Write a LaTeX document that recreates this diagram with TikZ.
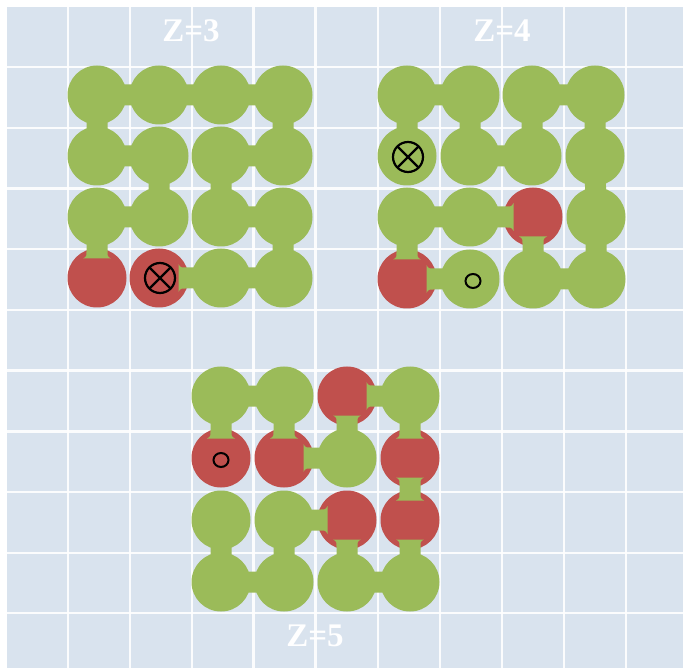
\documentclass[tikz,border=0pt]{standalone}
\usepackage{fontspec}
\setmainfont{Liberation Serif}
\usetikzlibrary{calc,shapes.geometric}
\definecolor{bgblue}{HTML}{D9E3EE}
\definecolor{pg}{HTML}{9BBB59}
\definecolor{pr}{HTML}{C0504D}
\newcommand\mybond[2]{%
 \path ($(#1.center)!19.5pt!(#2.center)$) coordinate (bA)
       ($(#2.center)!19.5pt!(#1.center)$) coordinate (bB);
 \fill[pg] ($(bA)!14pt!90:(bB)$) .. controls ($(bA)!2pt!(bB)!10.5pt!90:(bB)$) .. ($(bA)!7pt!(bB)!10.5pt!90:(bB)$)
   -- ($(bB)!7pt!(bA)!10.5pt!-90:(bA)$) .. controls ($(bB)!2pt!(bA)!10.5pt!-90:(bA)$) .. ($(bB)!14pt!-90:(bA)$)
   -- ($(bB)!14pt!90:(bA)$) .. controls ($(bB)!2pt!(bA)!10.5pt!90:(bA)$) .. ($(bB)!7pt!(bA)!10.5pt!90:(bA)$)
   -- ($(bA)!7pt!(bB)!10.5pt!-90:(bB)$) .. controls ($(bA)!2pt!(bB)!10.5pt!-90:(bB)$) .. ($(bA)!14pt!-90:(bB)$) -- cycle;}
\tikzset{
  bead/.style={circle, fill=#1, minimum size=59pt, inner sep=0pt, outer sep=0pt},
  gridline/.style={white, line width=2.5pt, opacity=0.9},
  otimes/.style={circle, draw=black, line width=2.2pt, minimum size=30pt, inner sep=0pt,
    path picture={\draw[line width=2.2pt] (path picture bounding box.north west) -- (path picture bounding box.south east)
      (path picture bounding box.north east) -- (path picture bounding box.south west);}},
  odot/.style={ellipse, draw=black, line width=2pt, minimum width=15pt, minimum height=14pt, inner sep=0pt},
  lbl/.style={text=white, font=\bfseries\fontsize{33}{33}\selectfont, inner sep=0pt}
}
\begin{document}
\begin{tikzpicture}[x=1pt, y=-1pt]
\useasboundingbox (0,0) rectangle (683,668);
\fill[white] (0,0) rectangle (683,668);
\fill[bgblue] (7,7) rectangle (683,668);
\foreach \gx in {68,130,192,253.5,315.5,378,440,502,564,626}
  \draw[gridline] (\gx,7) -- (\gx,668);
\foreach \gy in {67,128,188.5,249,310,370.5,431.5,492,553,613}
  \draw[gridline] (7,\gy) -- (683,\gy);

% Z=3
\foreach \n/\px/\py/\cl in {11/97/95/pg,12/159/95/pg,13/221/95/pg,14/283/95/pg,
  21/97/156/pg,22/159/156/pg,23/221/156/pg,24/283/156/pg,
  31/97/217/pg,32/159/217/pg,33/221/217/pg,34/283/217/pg,
  41/97/278/pr,42/159/278/pr,43/221/278/pg,44/283/278/pg}
  \node[bead=\cl] (a\n) at (\px,\py) {};
\mybond{a41}{a31}\mybond{a31}{a32}\mybond{a32}{a22}\mybond{a22}{a21}
\mybond{a21}{a11}\mybond{a11}{a12}\mybond{a12}{a13}\mybond{a13}{a14}
\mybond{a14}{a24}\mybond{a24}{a23}\mybond{a23}{a33}\mybond{a33}{a34}
\mybond{a34}{a44}\mybond{a44}{a43}\mybond{a43}{a42}
\node[otimes] (x3) at (160,278) {};

% Z=4
\foreach \n/\px/\py/\cl in {11/407/95/pg,12/470/95/pg,13/532/95/pg,14/595/95/pg,
  21/407/156/pg,22/470/156/pg,23/532/156/pg,24/595/156/pg,
  31/407/217/pg,32/470/217/pg,33/533/217/pr,34/596/217/pg,
  41/407/279/pr,42/470/279/pg,43/533/279/pg,44/596/279/pg}
  \node[bead=\cl] (b\n) at (\px,\py) {};
\mybond{b42}{b41}\mybond{b41}{b31}\mybond{b31}{b32}\mybond{b32}{b33}
\mybond{b33}{b43}\mybond{b43}{b44}\mybond{b44}{b34}\mybond{b34}{b24}
\mybond{b24}{b14}\mybond{b14}{b13}\mybond{b13}{b23}\mybond{b23}{b22}
\mybond{b22}{b12}\mybond{b12}{b11}\mybond{b11}{b21}
\node[otimes] (x4) at (408,157) {};
\node[odot] (o4) at (473,281) {};

% Z=5
\foreach \n/\px/\py/\cl in {11/221/396/pg,12/284/396/pg,13/347/396/pr,14/410/396/pg,
  21/221/458/pr,22/284/458/pr,23/347/458/pg,24/410/458/pr,
  31/221/520/pg,32/284/520/pg,33/347/520/pr,34/410/520/pr,
  41/221/582/pg,42/284/582/pg,43/347/582/pg,44/410/582/pg}
  \node[bead=\cl] (c\n) at (\px,\py) {};
\mybond{c21}{c11}\mybond{c11}{c12}\mybond{c12}{c22}\mybond{c22}{c23}
\mybond{c23}{c13}\mybond{c13}{c14}\mybond{c14}{c24}\mybond{c24}{c34}
\mybond{c34}{c44}\mybond{c44}{c43}\mybond{c43}{c33}\mybond{c33}{c32}
\mybond{c32}{c42}\mybond{c42}{c41}\mybond{c41}{c31}
\node[odot] (o5) at (221,460) {};

\node[lbl] (l3) at (191,31) {Z=3};
\node[lbl] (l4) at (502,31) {Z=4};
\node[lbl] (l5) at (315,636) {Z=5};
\end{tikzpicture}
\end{document}
